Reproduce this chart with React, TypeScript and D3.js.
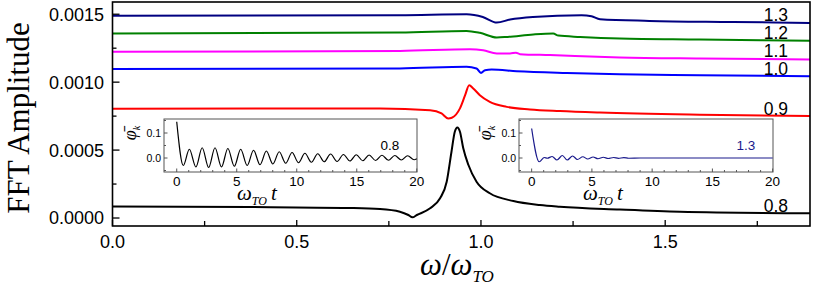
import React from "react";
import * as d3 from "d3";

// ---------- main chart data (ω/ωTO, FFT amplitude) ----------
const omega13 = [0, 0.78, 0.961, 1.005, 1.043, 1.079, 1.141, 1.273, 1.3, 1.323, 1.457, 1.684, 1.893];
const amp13 = [0.001488, 0.001493, 0.0015, 0.00148, 0.001439, 0.001461, 0.00148, 0.001493, 0.001485, 0.001463, 0.001451, 0.001443, 0.001436];

const omega12 = [0, 0.78, 0.961, 0.997, 1.043, 1.071, 1.142, 1.196, 1.21, 1.269, 1.377, 1.594, 1.893];
const amp12 = [0.001358, 0.001365, 0.001377, 0.001363, 0.001329, 0.001333, 0.001351, 0.001358, 0.001343, 0.001333, 0.001321, 0.001314, 0.001304];

const omega11 = [0, 0.78, 0.97, 1.006, 1.043, 1.079, 1.095, 1.106, 1.187, 1.377, 1.594, 1.893];
const amp11 = [0.001223, 0.00123, 0.001243, 0.001235, 0.001211, 0.001211, 0.001217, 0.001206, 0.001199, 0.001182, 0.001174, 0.001167];

const omega10 = [0, 0.78, 0.961, 0.988, 1.0, 1.011, 1.029, 1.097, 1.233, 1.377, 1.594, 1.893];
const amp10 = [0.001096, 0.001101, 0.001113, 0.001101, 0.001068, 0.001088, 0.001093, 0.001081, 0.001068, 0.001059, 0.001051, 0.001044];

const omega09 = [0, 0.726, 0.862, 0.893, 0.911, 0.921, 0.943, 0.957, 0.968, 0.979, 0.997, 1.024, 1.07, 1.133, 1.214, 1.323, 1.594, 1.893];
const amp09 = [0.000804, 0.000807, 0.000794, 0.00077, 0.000733, 0.000738, 0.000807, 0.000904, 0.000978, 0.000954, 0.000904, 0.000855, 0.000818, 0.000799, 0.000787, 0.000776, 0.00076, 0.00075];

const omega08 = [0, 0.373, 0.645, 0.726, 0.78, 0.803, 0.814, 0.826, 0.862, 0.889, 0.907, 0.92, 0.929, 0.936, 0.943, 0.952, 0.966, 0.988, 1.024, 1.088, 1.16, 1.214, 1.377, 1.54, 1.893];
const amp08 = [0.0000846, 0.0000809, 0.0000735, 0.0000662, 0.0000463, 0.0000221, 0.0000051, 0.0000221, 0.0000713, 0.000145, 0.000267, 0.000488, 0.000635, 0.000667, 0.000635, 0.000513, 0.00039, 0.000267, 0.000182, 0.000125, 0.0000956, 0.0000831, 0.0000625, 0.0000463, 0.0000346];

const seriesLabels = ["1.3", "1.2", "1.1", "1.0", "0.9", "0.8"];
const seriesColors = ["#000080", "#008000", "#ff00ff", "#0000ff", "#ff0000", "#000000"];

const xTicks = [0, 0.5, 1.0, 1.5];
const xMinorTicks = [0.25, 0.75, 1.25, 1.75];
const yTicks = [0, 0.0005, 0.001, 0.0015];
const yMinorTicks = [0.00025, 0.00075, 0.00125];

// ---------- inset data (ωTO t, φk) ----------
const insetT08 = [0, 0.55, 1.05, 1.6, 2.12, 2.66, 3.19, 3.73, 4.26, 4.8, 5.33, 5.87, 6.4, 6.94, 7.47, 8.01, 8.54, 9.08, 9.61, 10.15, 10.68, 11.22, 11.75, 12.29, 12.82, 13.36, 13.89, 14.43, 14.96, 15.5, 16.03, 16.57, 17.1, 17.64, 18.17, 18.71, 19.24, 19.78, 20];
const insetV08 = [0.145, -0.03, 0.035, -0.036, 0.041, -0.038, 0.041, -0.036, 0.038, -0.033, 0.035, -0.03, 0.031, -0.027, 0.028, -0.024, 0.025, -0.021, 0.022, -0.019, 0.019, -0.017, 0.017, -0.015, 0.016, -0.014, 0.014, -0.012, 0.013, -0.011, 0.012, -0.01, 0.011, -0.009, 0.01, -0.008, 0.009, -0.007, -0.003];

const insetT13 = [0, 0.63, 1.05, 1.3, 1.7, 2.1, 2.55, 2.95, 3.4, 3.8, 4.25, 4.65, 5.1, 5.5, 5.95, 6.35, 6.8, 7.2, 7.65, 8.05, 9, 20];
const insetV13 = [0.118, -0.015, 0.002, -0.001, 0.006, -0.008, 0.01, -0.008, 0.008, -0.006, 0.005, -0.004, 0.004, -0.003, 0.003, -0.002, 0.002, -0.0015, 0.0015, -0.001, 0, 0];

const insetXTicks = [0, 5, 10, 15, 20];
const insetXMinor = d3.range(1, 20).filter((t) => t % 5 !== 0);
const insetYTicks = [0, 0.1];
const insetYMinor = [-0.05, 0.05, 0.15];

// ---------- layout ----------
const W = 814;
const H = 289;
const L = 112.5;
const R = 810;
const T = 2;
const B = 226;

const SANS = "'Liberation Sans', Arial, sans-serif";
const SERIF = "'Liberation Serif', 'Times New Roman', serif";

function Inset(props: {
  x0: number; x1: number; tMin: number; tMax: number;
  t: number[]; v: number[]; color: string; label: string; labelX: number; titleX: number;
}) {
  const { x0, x1, tMin, tMax, t, v, color, label, labelX, titleX } = props;
  const y0 = 119;
  const y1 = 172;
  const sx = d3.scaleLinear().domain([tMin, tMax]).range([x0, x1]);
  const sy = d3.scaleLinear().domain([-0.056, 0.156]).range([y1, y0]);
  const line = d3
    .line<number>()
    .x((_, i) => sx(t[i]))
    .y((d) => sy(d))
    .curve(d3.curveMonotoneX);
  return (
    <g>
      <rect x={x0} y={y0} width={x1 - x0} height={y1 - y0} fill="#fff" stroke="#555" strokeWidth={1} />
      {insetXTicks.map((tk) => (
        <g key={"xt" + tk}>
          <line x1={sx(tk)} x2={sx(tk)} y1={y1} y2={y1 - 3.5} stroke="#555" strokeWidth={1} />
          <text x={sx(tk)} y={y1 + 14} fontFamily={SANS} fontSize={13.5} textAnchor="middle" fill="#000">{tk}</text>
        </g>
      ))}
      {insetXMinor.map((tk) => (
        <line key={"xm" + tk} x1={sx(tk)} x2={sx(tk)} y1={y1} y2={y1 - 2} stroke="#555" strokeWidth={1} />
      ))}
      {insetYTicks.map((tk) => (
        <g key={"yt" + tk}>
          <line x1={x0} x2={x0 + 3.5} y1={sy(tk)} y2={sy(tk)} stroke="#555" strokeWidth={1} />
          <text x={x0 - 3} y={sy(tk)} dy="0.35em" fontFamily={SANS} fontSize={10.5} textAnchor="end" fill="#000">{tk.toFixed(1)}</text>
        </g>
      ))}
      {insetYMinor.map((tk) => (
        <line key={"ym" + tk} x1={x0} x2={x0 + 2} y1={sy(tk)} y2={sy(tk)} stroke="#555" strokeWidth={1} />
      ))}
      <path d={line(v) || ""} fill="none" stroke={color} strokeWidth={1.2} />
      <text x={labelX} y={150} fontFamily={SANS} fontSize={13.5} textAnchor="middle" fill={color}>{label}</text>
      <text transform={`translate(${x0 - 28},${133}) rotate(-90)`} fontFamily={SERIF} fontSize={18} fontStyle="italic" textAnchor="middle" fill="#000">
        φ̄<tspan fontSize={10} dy={4}>k</tspan>
      </text>
      <text x={titleX} y={200} fontFamily={SERIF} fontSize={21} fontStyle="italic" fill="#000">
        ω<tspan fontSize={12} dy={5}>TO</tspan><tspan dy={-5} dx={4}>t</tspan>
      </text>
    </g>
  );
}

export default function App() {
  const x = d3.scaleLinear().domain([0, 1.893]).range([L, R]);
  const y = d3.scaleLinear().domain([-0.0000588, 0.00159]).range([B, T]);

  const omegas = [omega13, omega12, omega11, omega10, omega09, omega08];
  const amps = [amp13, amp12, amp11, amp10, amp09, amp08];
  const labelBaselines = [21, 39, 57, 75, 115, 212];

  const makeLine = (om: number[]) =>
    d3
      .line<number>()
      .x((_, i) => x(om[i]))
      .y((d) => y(d))
      .curve(d3.curveMonotoneX);

  return (
    <svg width={W} height={H} style={{ position: "absolute", left: 0, top: 0, background: "#fff" }}>
      <rect x={0} y={0} width={W} height={H} fill="#fff" />
      <defs>
        <clipPath id="plotClip">
          <rect x={L} y={T} width={R - L} height={B - T} />
        </clipPath>
      </defs>
      <g clipPath="url(#plotClip)">
        {amps.map((a, i) => (
          <path key={i} d={makeLine(omegas[i])(a) || ""} fill="none" stroke={seriesColors[i]} strokeWidth={2} />
        ))}
      </g>
      {seriesLabels.map((lab, i) => (
        <text key={lab} x={788} y={labelBaselines[i]} fontFamily={SANS} fontSize={17.5} textAnchor="end" fill="#000">{lab}</text>
      ))}

      <Inset x0={164} x1={417} tMin={-1.06} tMax={20.02} t={insetT08} v={insetV08} color="#000" label="0.8" labelX={390} titleX={237} />
      <Inset x0={519} x1={773} tMin={-1.05} tMax={20.03} t={insetT13} v={insetV13} color="#1a1a8c" label="1.3" labelX={746} titleX={583} />

      {/* frame */}
      <rect x={L} y={T} width={R - L} height={B - T} fill="none" stroke="#000" strokeWidth={1.6} />
      {/* x ticks */}
      {xTicks.map((t) => (
        <g key={"x" + t}>
          <line x1={x(t)} x2={x(t)} y1={B} y2={B - 6} stroke="#000" strokeWidth={1.3} />
          <text x={x(t)} y={248} fontFamily={SANS} fontSize={18} textAnchor="middle" fill="#000">{t.toFixed(1)}</text>
        </g>
      ))}
      {xMinorTicks.map((t) => (
        <line key={"xm" + t} x1={x(t)} x2={x(t)} y1={B} y2={B - 5} stroke="#000" strokeWidth={1.3} />
      ))}
      {/* y ticks */}
      {yTicks.map((t) => (
        <g key={"y" + t}>
          <line x1={L} x2={L + 7} y1={y(t)} y2={y(t)} stroke="#000" strokeWidth={1.3} />
          <text x={104} y={y(t)} dy="0.36em" fontFamily={SANS} fontSize={18} textAnchor="end" fill="#000">{d3.format(".4f")(t)}</text>
        </g>
      ))}
      {yMinorTicks.map((t) => (
        <line key={"ym" + t} x1={L} x2={L + 4} y1={y(t)} y2={y(t)} stroke="#000" strokeWidth={1.3} />
      ))}

      {/* axis titles */}
      <text transform={`translate(29,${118}) rotate(-90)`} fontFamily={SERIF} fontSize={31} textAnchor="middle" fill="#000">FFT Amplitude</text>
      <text x={420} y={275} fontFamily={SERIF} fontSize={31} fill="#000">
        <tspan fontStyle="italic">ω</tspan><tspan>/</tspan><tspan fontStyle="italic">ω</tspan><tspan fontStyle="italic" fontSize={17} dy={7}>TO</tspan>
      </text>
    </svg>
  );
}
